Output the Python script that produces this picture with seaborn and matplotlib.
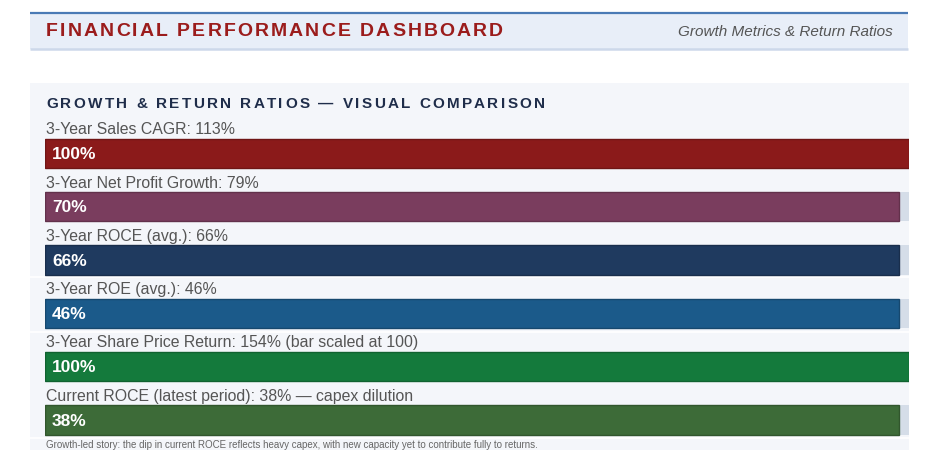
import matplotlib
matplotlib.use("Agg")
import matplotlib.pyplot as plt
import matplotlib.colors as mcolors
import seaborn as sns

# ------------------------------------------------------------
# data
# ------------------------------------------------------------
metric_labels = [
    "3-Year Sales CAGR: 113%",
    "3-Year Net Profit Growth: 79%",
    "3-Year ROCE (avg.): 66%",
    "3-Year ROE (avg.): 46%",
    "3-Year Share Price Return: 154% (bar scaled at 100)",
    "Current ROCE (latest period): 38% \u2014 capex dilution",
]
bar_pct = [100, 70, 66, 46, 100, 38]               # text printed in the bar
bar_fill = [100, 98.9, 98.9, 98.9, 100, 98.9]      # bar length as rendered
track = [100, 100, 100, 100, 100, 100]
bar_colors = ["#8b1a1a", "#7a3d5e", "#1f3a5f", "#1b5a8a", "#147a3c", "#3d6b38"]

title = "FINANCIAL PERFORMANCE DASHBOARD"
subtitle = "Growth Metrics & Return Ratios"
section_title = "GROWTH & RETURN RATIOS \u2014 VISUAL COMPARISON"
note = ("Growth-led story: the dip in current ROCE reflects heavy capex, "
        "with new capacity yet to contribute fully to returns.")

# ------------------------------------------------------------
# style
# ------------------------------------------------------------
sns.set_theme(style="white")
plt.rcParams["font.family"] = ["Liberation Sans", "DejaVu Sans"]

W, H = 950, 450
fig = plt.figure(figsize=(W / 100, H / 100), dpi=100)
fig.patch.set_facecolor("white")

# background axes in pixel coordinates
bg = fig.add_axes([0, 0, 1, 1])
bg.set_xlim(0, W)
bg.set_ylim(H, 0)
bg.axis("off")


def spaced_text(ax, x, y, s, width, **kw):
    """draw text letter by letter so it spans `width` pixels"""
    r = fig.canvas.get_renderer()
    ws = []
    for ch in s:
        t = ax.text(0, 0, ch, **kw)
        ws.append(t.get_window_extent(r).width)
        t.remove()
    gap = (width - sum(ws)) / (len(s) - 1)
    cx = x
    for ch, w in zip(s, ws):
        ax.text(cx, y, ch, ha="left", va="center", **kw)
        cx += w + gap


# header band
bg.add_patch(plt.Rectangle((30, 12), 878, 37, color="#e8eef8", lw=0))
bg.plot([30, 908], [12.5, 12.5], color="#4a7ab5", lw=1.6, solid_capstyle="butt")
bg.plot([30, 908], [48.5, 48.5], color="#cdd8ea", lw=1.8, solid_capstyle="butt")
spaced_text(bg, 46, 31, title, 457, fontsize=14, fontweight="bold", color="#9b1c1c")
bg.text(893, 31.5, subtitle, ha="right", va="center", fontsize=11,
        fontstyle="italic", color="#555555")

# panel
bg.add_patch(plt.Rectangle((30, 83), 879, H - 83, color="#f4f6fa", lw=0))
for yy in [277, 332, 437.5]:
    bg.plot([30, 909], [yy, yy], color="white", lw=1.2, solid_capstyle="butt")
spaced_text(bg, 46, 103.5, section_title, 499, fontsize=11, fontweight="bold",
            color="#1f2d4a")
# note line at the foot of the panel (cut by the frame in the source)
bg.text(46, 449.5, note, ha="left", va="bottom", fontsize=7, color="#666666")

# ------------------------------------------------------------
# bars
# ------------------------------------------------------------
row_h = 53.3
top = 153.5 - row_h / 2
ax = fig.add_axes([45 / W, 1 - (top + 6 * row_h) / H, 864 / W, 6 * row_h / H])
ax.patch.set_alpha(0)

sns.barplot(x=track, y=metric_labels, orient="h", color="#d5dde8",
            width=0.55, saturation=1, ax=ax)
n_track = len(ax.patches)
sns.barplot(x=bar_fill, y=metric_labels, hue=metric_labels, palette=bar_colors,
            orient="h", width=0.55, saturation=1, legend=False, ax=ax)

for p in ax.patches[:n_track]:
    p.set_linewidth(0)
for p in ax.patches[n_track:]:
    fc = mcolors.to_rgb(p.get_facecolor())
    p.set_edgecolor(tuple(c * 0.8 for c in fc))
    p.set_linewidth(1.0)

for i, (lab, pct) in enumerate(zip(metric_labels, bar_pct)):
    ax.text(0.1, i - 0.445, lab, ha="left", va="center", fontsize=11.4,
            color="#555555")
    ax.text(0.8, i + 0.02, f"{pct}%", ha="left", va="center", fontsize=12.5,
            fontweight="bold", color="white")

ax.set_xlim(0, 100)
ax.set_ylim(5.5, -0.5)
ax.axis("off")

fig.savefig("out.png", dpi=100)
plt.close(fig)
